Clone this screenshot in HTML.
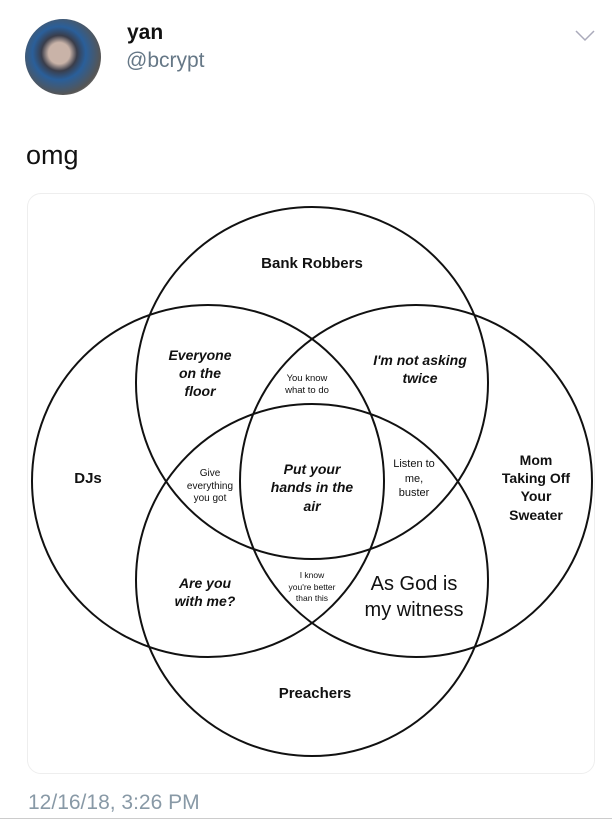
<!DOCTYPE html>
<html><head><meta charset="utf-8"><style>
body{margin:0;width:612px;height:825px;background:#fff;position:relative;overflow:hidden;font-family:"Liberation Sans",sans-serif}
.a{position:absolute}
</style></head><body>
<div class="a" style="left:25px;top:19px;width:76px;height:76px;border-radius:50%;background:radial-gradient(circle at 45% 45%,#c9b3a8 0 18%,#3a3d4a 30%,#2a5f9a 45%,#555 70%,#ddd 100%)"></div>
<div class="a" style="left:127px;top:21px;font-size:21px;font-weight:bold;color:#111">yan</div>
<div class="a" style="left:126px;top:49px;font-size:21px;color:#657786">@bcrypt</div>
<svg class="a" style="left:574px;top:29px" width="22" height="14"><polyline points="2,2 11,11 20,2" fill="none" stroke="#aab" stroke-width="1.5"/></svg>
<div class="a" style="left:26px;top:140px;font-size:27px;color:#111">omg</div>
<div class="a" style="left:27px;top:193px;width:566px;height:579px;border:1px solid #eee;border-radius:14px"></div>
<svg class="a" style="left:0;top:0" width="612" height="825" font-family="Liberation Sans, sans-serif" text-anchor="middle" fill="#111">
<g fill="none" stroke="#111" stroke-width="2">
<circle cx="312" cy="383" r="176"/>
<circle cx="208" cy="481" r="176"/>
<circle cx="416" cy="481" r="176"/>
<circle cx="312" cy="580" r="176"/>
</g>
<text x="312" y="268" font-size="15" font-weight="bold">Bank Robbers</text>
<g font-size="14" font-weight="bold" font-style="italic">
<text x="200" y="360">Everyone</text><text x="200" y="378">on the</text><text x="200" y="396">floor</text>
<text x="420" y="365">I'm not asking</text><text x="420" y="383">twice</text>
<text x="312" y="474">Put your</text><text x="312" y="492">hands in the</text><text x="312" y="511">air</text>
<text x="205" y="588">Are you</text><text x="205" y="606">with me?</text>
</g>
<g font-size="9.5"><text x="307" y="381">You know</text><text x="307" y="393">what to do</text>
<text x="210" y="476" font-size="10">Give</text><text x="210" y="489" font-size="10">everything</text><text x="210" y="501" font-size="10">you got</text>
<text x="312" y="578" font-size="8.5">I know</text><text x="312" y="590" font-size="8.5">you're better</text><text x="312" y="601" font-size="8.5">than this</text></g>
<g font-size="11"><text x="414" y="467">Listen to</text><text x="414" y="482">me,</text><text x="414" y="496">buster</text></g>
<text x="88" y="483" font-size="15" font-weight="bold">DJs</text>
<g font-size="14" font-weight="bold"><text x="536" y="465">Mom</text><text x="536" y="483">Taking Off</text><text x="536" y="501">Your</text><text x="536" y="520">Sweater</text></g>
<g font-size="20"><text x="414" y="590">As God is</text><text x="414" y="616">my witness</text></g>
<text x="315" y="698" font-size="15" font-weight="bold">Preachers</text>
</svg>
<div class="a" style="left:28px;top:791px;font-size:21px;color:#8899a6">12/16/18, 3:26 PM</div>
<div class="a" style="left:0;top:818px;width:612px;height:1px;background:#ccc"></div>
</body></html>
